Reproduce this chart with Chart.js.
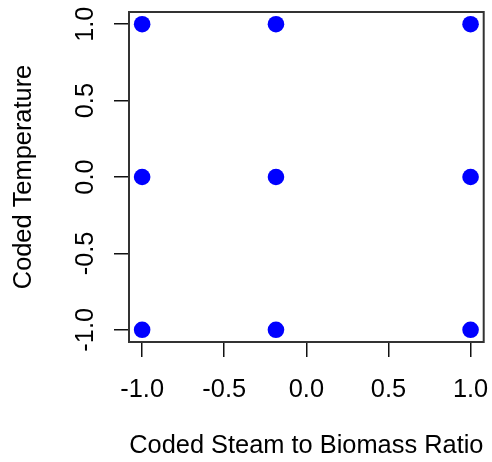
<!DOCTYPE html>
<html>
<head>
<meta charset="utf-8">
<style>
html,body{margin:0;padding:0;background:#fff;}
#wrap{width:492px;height:462px;}
</style>
<script src="https://cdn.jsdelivr.net/npm/chart.js@4"></script>
</head>
<body>
<div id="wrap"><canvas id="c" width="492" height="462"></canvas></div>
<script>
// Data
const steamRatio = [-1, -1, -1, -0.185, -0.185, -0.185, 1, 1, 1];
const temperature = [-1, 0, 1, -1, 0, 1, -1, 0, 1];
const xTicks = [-1, -0.5, 0, 0.5, 1];
const yTicks = [-1, -0.5, 0, 0.5, 1];
const xTitle = 'Coded Steam to Biomass Ratio';
const yTitle = 'Coded Temperature';

const FONT = 'Arial, "Liberation Sans", sans-serif';
const FS = 25.4;

const boxPlugin = {
  id: 'box',
  afterDraw(chart) {
    const {ctx, chartArea: a} = chart;
    ctx.save();
    ctx.strokeStyle = '#333';
    ctx.lineWidth = 2;
    ctx.strokeRect(a.left, a.top, a.right - a.left, a.bottom - a.top);
    // rotated y tick labels
    const ys = chart.scales.y;
    ctx.fillStyle = '#000';
    ctx.font = FS + 'px ' + FONT;
    ctx.textAlign = 'center';
    ctx.textBaseline = 'alphabetic';
    ys.ticks.forEach(t => {
      const py = ys.getPixelForValue(t.value);
      ctx.save();
      ctx.translate(93, py);
      ctx.rotate(-Math.PI / 2);
      ctx.fillText(t.value.toFixed(1), 0, 0);
      ctx.restore();
    });
    ctx.restore();
  }
};

new Chart(document.getElementById('c'), {
  type: 'scatter',
  data: {
    datasets: [{
      data: steamRatio.map((x, i) => ({x: x, y: temperature[i]})),
      backgroundColor: '#0000ff',
      borderWidth: 0,
      pointRadius: 8.3,
      pointHoverRadius: 8.3
    }]
  },
  options: {
    responsive: false,
    animation: false,
    events: [],
    layout: {padding: {top: 12, right: 7, left: 0, bottom: 0}},
    plugins: {legend: {display: false}, tooltip: {enabled: false}},
    scales: {
      x: {
        type: 'linear',
        min: -1.08, max: 1.08,
        afterBuildTicks: s => { s.ticks = xTicks.map(v => ({value: v})); },
        afterFit: s => { s.height = 120; s.paddingLeft = 0; s.paddingRight = 0; },
        grid: {display: true, drawOnChartArea: false, drawTicks: true, tickLength: 15, color: '#111', lineWidth: 1.5},
        border: {display: false},
        ticks: {
          color: '#000',
          font: {family: FONT, size: FS},
          padding: 18,
          maxRotation: 0, minRotation: 0,
          callback: v => Number(v).toFixed(1)
        },
        title: {display: true, text: xTitle, color: '#000', font: {family: FONT, size: FS}, padding: {top: 0, bottom: 1}}
      },
      y: {
        type: 'linear',
        min: -1.08, max: 1.08,
        afterBuildTicks: s => { s.ticks = yTicks.map(v => ({value: v})); },
        afterFit: s => { s.width = 129; s.paddingTop = 0; s.paddingBottom = 0; },
        grid: {display: true, drawOnChartArea: false, drawTicks: true, tickLength: 15, color: '#111', lineWidth: 1.5},
        border: {display: false},
        ticks: {display: false},
        title: {display: true, text: yTitle, color: '#000', font: {family: FONT, size: FS}, padding: {top: 9, bottom: 0}}
      }
    }
  },
  plugins: [boxPlugin]
});
</script>
</body>
</html>
